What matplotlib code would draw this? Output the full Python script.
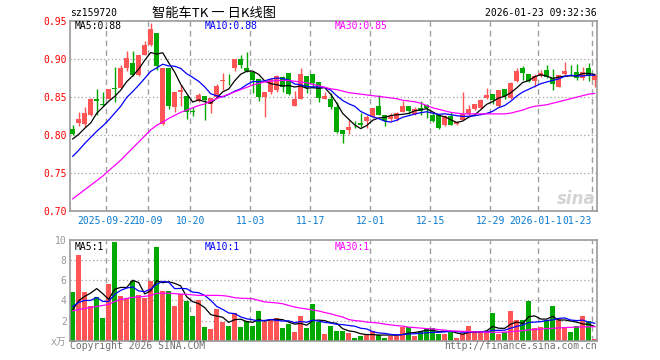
import numpy as np
import matplotlib
matplotlib.use('Agg')
import matplotlib.pyplot as plt

plt.rcParams['font.family'] = ['DejaVu Sans Mono', 'Noto Sans CJK SC']

# date labels on the x axis (candle index -> text)
date_pos = [6, 13, 20, 30, 40, 50, 60, 70, 78, 87]
date_txt = ['2025-09-22', '10-09', '10-20', '11-03', '11-17',
            '12-01', '12-15', '12-29', '2026-01-12', '01-23']

opens = [.808, .816, .814, .826, .848, .841, .848, .862, .862, .889,
         .895, .879, .906, .919, .935, .814, .889, .837, .857, .851,
         .832, .845, .852, .841, .850, .871, .873, .889, .900, .889,
         .883, .874, .850, .857, .859, .876, .882, .838, .848, .878,
         .881, .870, .848, .847, .837, .807, .807, .815, .816, .818,
         .824, .839, .826, .821, .821, .831, .839, .828, .836, .840,
         .826, .826, .813, .825, .815, .820, .828, .834, .836, .849,
         .854, .838, .861, .849, .871, .888, .881, .871, .878, .886,
         .875, .864, .880, .885, .883, .875, .889, .873]
highs = [.813, .830, .837, .849, .861, .857, .861, .890, .893, .911,
         .911, .905, .924, .948, .935, .888, .889, .857, .866, .853,
         .837, .855, .852, .849, .868, .882, .880, .900, .905, .909,
         .883, .874, .857, .874, .879, .878, .882, .858, .888, .878,
         .881, .870, .857, .856, .843, .807, .820, .818, .829, .826,
         .836, .853, .826, .829, .830, .845, .839, .837, .845, .841,
         .830, .826, .826, .830, .819, .857, .840, .841, .848, .862,
         .854, .860, .861, .870, .889, .891, .881, .880, .886, .893,
         .887, .879, .896, .893, .894, .890, .895, .881]
lows = [.800, .812, .811, .825, .827, .838, .848, .843, .862, .884,
        .878, .878, .905, .918, .886, .813, .834, .830, .839, .821,
        .825, .843, .820, .829, .849, .860, .866, .884, .889, .883,
        .856, .845, .824, .854, .857, .857, .853, .838, .848, .856,
        .862, .843, .848, .834, .803, .790, .801, .809, .811, .810,
        .823, .826, .812, .819, .818, .830, .828, .827, .827, .822,
        .817, .808, .812, .813, .813, .820, .825, .833, .835, .848,
        .841, .837, .848, .848, .870, .873, .870, .864, .876, .875,
        .860, .864, .879, .878, .873, .872, .871, .864]
closes = [.801, .821, .829, .848, .845, .840, .861, .861, .889, .901,
          .879, .905, .919, .940, .891, .888, .839, .857, .860, .831,
          .831, .853, .846, .849, .865, .872, .872, .900, .892, .885,
          .873, .850, .857, .874, .878, .864, .854, .847, .881, .862,
          .869, .849, .852, .837, .804, .801, .811, .814, .813, .824,
          .836, .826, .818, .825, .829, .839, .832, .835, .832, .836,
          .818, .810, .825, .813, .817, .828, .835, .841, .846, .853,
          .846, .859, .852, .869, .885, .882, .871, .878, .882, .876,
          .867, .879, .885, .884, .875, .883, .879, .879]
volumes = [4.8, 8.5, 4.8, 3.47, 4.3, 2.3, 5.67, 9.8, 4.4, 4.23,
           5.9, 4.5, 4.2, 5.9, 9.3, 4.9, 4.97, 3.4, 4.63, 3.9,
           2.5, 4.0, 1.4, 1.17, 3.17, 1.9, 1.47, 2.73, 1.4, 2.0,
           1.5, 2.9, 1.9, 2.13, 2.23, 1.3, 1.67, 0.9, 2.5, 1.3,
           3.63, 1.9, 0.63, 1.5, 0.97, 0.97, 0.8, 0.23, 0.47, 0.57,
           0.97, 0.57, 0.23, 0.47, 0.47, 1.33, 1.33, 0.47, 0.97, 1.17,
           1.23, 0.67, 0.67, 0.97, 0.3, 0.63, 1.5, 0.9, 0.9, 0.97,
           2.8, 0.63, 0.83, 2.97, 2.07, 2.07, 3.97, 1.23, 1.4, 2.07,
           3.4, 2.13, 1.3, 0.9, 1.5, 2.5, 1.97, 0.17]

# moving average values before the window is full
ma5_head = [0.795, 0.801, 0.809, 0.816]
ma10_head = [0.772, 0.780, 0.789, 0.797, 0.805, 0.812, 0.820, 0.829, 0.838]
ma30 = [0.716, 0.722, 0.728, 0.734, 0.740, 0.746, 0.753, 0.760, 0.767, 0.775,
        0.783, 0.791, 0.799, 0.807, 0.813, 0.817, 0.822, 0.826, 0.830, 0.833,
        0.836, 0.839, 0.841, 0.845, 0.848, 0.851, 0.854, 0.857, 0.860, 0.863,
        0.866, 0.868, 0.870, 0.871, 0.872, 0.872, 0.872, 0.871, 0.870, 0.869,
        0.867, 0.865, 0.863, 0.861, 0.860, 0.858, 0.856, 0.855, 0.854, 0.853,
        0.852, 0.851, 0.850, 0.849, 0.848, 0.846, 0.845, 0.844, 0.842, 0.839,
        0.836, 0.834, 0.832, 0.830, 0.829, 0.828, 0.828, 0.828, 0.828, 0.828,
        0.828, 0.828, 0.828, 0.829, 0.831, 0.833, 0.836, 0.838, 0.839, 0.840,
        0.842, 0.844, 0.846, 0.848, 0.850, 0.852, 0.854, 0.855]
vma5_head = [3.07, 3.97, 4.4, 4.73]
vma10_head = [3.4, 3.8, 4.0, 4.0, 4.3, 3.9, 3.9, 4.6, 5.0]
vma30 = [2.97, 3.1, 3.2, 3.3, 3.4, 3.5, 3.6, 3.9, 4.1, 4.2,
         4.3, 4.35, 4.4, 4.5, 4.7, 4.72, 4.72, 4.68, 4.63, 4.6,
         4.55, 4.5, 4.5, 4.5, 4.5, 4.48, 4.4, 4.27, 4.22, 4.2,
         4.17, 4.0, 3.85, 3.8, 3.75, 3.67, 3.5, 3.35, 3.23, 3.15,
         3.05, 2.95, 2.8, 2.67, 2.5, 2.35, 2.1, 2.0, 1.95, 1.85,
         1.8, 1.75, 1.65, 1.57, 1.5, 1.45, 1.35, 1.3, 1.25, 1.2,
         1.17, 1.1, 1.05, 0.97, 0.95, 0.93, 0.9, 0.88, 0.86, 0.85,
         0.83, 0.84, 0.85, 0.9, 0.95, 1.0, 1.07, 1.12, 1.15, 1.2,
         1.23, 1.27, 1.3, 1.33, 1.35, 1.37, 1.38, 1.4]


def moving_avg(vals, n, head):
    out = list(head)
    for i in range(len(head), len(vals)):
        out.append(np.mean(vals[i - n + 1:i + 1]))
    return out


RED = '#ff5555'
GREEN = '#00a800'
GRAY = '#a0a0a0'
W, H = 660, 360

n = len(closes)
idx = np.arange(n)
xc = idx + 0.4
o = np.array(opens)
c = np.array(closes)
cols = [RED if c[i] >= o[i] else GREEN for i in range(n)]

fig = plt.figure(figsize=(6.6, 3.6), dpi=100)
L, R = 70.3, 597
ax = fig.add_axes([L / W, 1 - 211 / H, (R - L) / W, (211 - 21.3) / H])
ax2 = fig.add_axes([L / W, 1 - 340.7 / H, (R - L) / W, (340.7 - 240) / H])
xmax = (R - L) / 6

for a in (ax, ax2):
    a.set_xlim(0, xmax)
    for s in a.spines.values():
        s.set_color('#999999')
        s.set_linewidth(1.2)
    a.set_xticks([])
    for p in date_pos:
        a.axvline(p, color=GRAY, lw=1, ls=(0, (4, 3)), zorder=0)

# price panel
ax.set_ylim(0.70, 0.95)
for g in [0.75, 0.80, 0.85, 0.90]:
    ax.axhline(g, color=GRAY, lw=0.9, ls=(0, (1, 2)), zorder=0)
ax.vlines(xc, lows, highs, colors=cols, lw=1, zorder=2)
body = np.maximum(np.abs(c - o), 0.0009)
ax.bar(idx, body, bottom=np.minimum(o, c), width=0.8, align='edge',
       color=cols, zorder=3)
ax.plot(xc, moving_avg(closes, 5, ma5_head), color='black', lw=0.9, zorder=4)
ax.plot(xc, moving_avg(closes, 10, ma10_head), color='#0000ff', lw=0.9, zorder=4)
ax.plot(xc, ma30, color='#ff00ff', lw=0.9, zorder=4)
ax.set_yticks([0.70, 0.75, 0.80, 0.85, 0.90, 0.95])
ax.set_yticklabels(['0.70', '0.75', '0.80', '0.85', '0.90', '0.95'])
ax.tick_params(axis='y', length=0, pad=2.6, labelcolor='red', labelsize=7)

for p, t in zip(date_pos, date_txt):
    if t == '01-23':
        # last label sits flush right and covers the end of the previous one
        ax.text((591.5 - L) / 6, -0.051, t, transform=ax.get_xaxis_transform(),
                ha='right', va='center', fontsize=7, color='#0a7bd0',
                bbox=dict(facecolor='white', edgecolor='none', pad=0))
    else:
        ax.text(p, -0.051, t, transform=ax.get_xaxis_transform(),
                ha='center', va='center', fontsize=7, color='#0a7bd0')

fig.text(596 / W, 1 - 199 / H, 'sina', ha='right', va='center', fontsize=12,
         fontweight='bold', style='italic', color='#d4d4d4',
         family='DejaVu Sans')

# volume panel
ax2.set_ylim(0, 10)
for g in [2, 4, 6, 8]:
    ax2.axhline(g, color=GRAY, lw=0.9, ls=(0, (1, 2)), zorder=0)
ax2.bar(idx, volumes, width=0.8, align='edge', color=cols, zorder=2)
ax2.plot(xc, moving_avg(volumes, 5, vma5_head), color='black', lw=0.9, zorder=3)
ax2.plot(xc, moving_avg(volumes, 10, vma10_head), color='#0000ff', lw=0.9, zorder=3)
ax2.plot(xc, vma30, color='#ff00ff', lw=0.9, zorder=3)
ax2.set_yticks([0, 2, 4, 6, 8, 10])
ax2.set_yticklabels(['x万', '2', '4', '6', '8', '10'])
ax2.tick_params(axis='y', length=0, pad=2.6, labelcolor='#999999', labelsize=7)


def px_text(x, y, s, **kw):
    fig.text(x / W, 1 - y / H, s, va='center', fontsize=7, **kw)


px_text(70, 13, 'sz159720')
px_text(596.5, 13, '2026-01-23 09:32:36', ha='right')
fig.text(213.5 / W, 1 - 13 / H, '智能车TK 一 日K线图', ha='center', va='center',
         fontsize=9.5, family=['Noto Sans CJK SC', 'DejaVu Sans'])
px_text(75, 26, 'MA5:0.88', color='black')
px_text(205, 26, 'MA10:0.88', color='#0000ff')
px_text(335, 26, 'MA30:0.85', color='#ff00ff')
px_text(75, 247, 'MA5:1', color='black')
px_text(205, 247, 'MA10:1', color='#0000ff')
px_text(335, 247, 'MA30:1', color='#ff00ff')
px_text(70, 346, 'Copyright 2026 SINA.COM', color='#707070')
px_text(596.5, 346, 'http://finance.sina.com.cn', ha='right', color='#707070')

fig.savefig('out.png', dpi=100)
